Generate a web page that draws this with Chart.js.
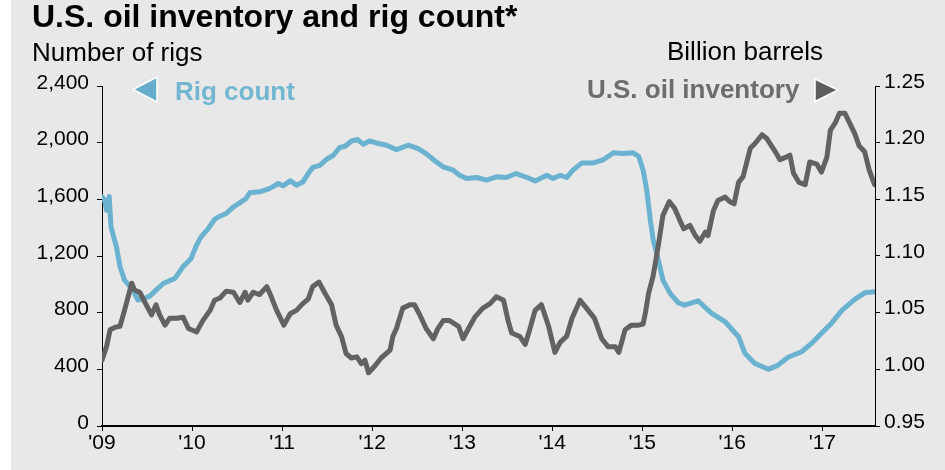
<!DOCTYPE html>
<html>
<head>
<meta charset="utf-8">
<title>U.S. oil inventory and rig count</title>
<script src="https://cdn.jsdelivr.net/npm/chart.js@4.4.0/dist/chart.umd.min.js"></script>
<style>
  html, body { margin: 0; padding: 0; background: #fff; }
  body {
    position: relative;
    width: 945px;
    height: 470px;
    overflow: hidden;
    font-family: "Liberation Sans", Arial, sans-serif;
  }
  .panel { position: absolute; left: 11px; top: 0; width: 934px; height: 470px; background: #e8e8e8; }
  #chart { position: absolute; left: 0; top: 0; }
  .txt { position: absolute; line-height: 1; white-space: nowrap; }
  .title { left: 32px; top: 0px; font-size: 32px; font-weight: bold; color: #000; }
  .unit { font-size: 26px; color: #000; }
  .legend { font-size: 26px; font-weight: bold; }
  svg { position: absolute; left: 0; top: 0; }
</style>
</head>
<body>
<div class="panel"></div>
<canvas id="chart" width="945" height="470"></canvas>
<div class="txt title">U.S. oil inventory and rig count*</div>
<div class="txt unit" style="left:32px; top:39px;">Number of rigs</div>
<div class="txt unit" style="left:667px; top:38px;">Billion barrels</div>
<div class="txt legend" style="left:175px; top:78px; color:#72b6d1;">Rig count</div>
<div class="txt legend" style="left:587px; top:76px; color:#6d6d6d;">U.S. oil inventory</div>
<svg width="945" height="470">
  <polygon points="133,89.5 157,77 157,102" fill="#66adcb" stroke="#fff" stroke-width="1.5"/>
  <polygon points="838,90 815,79 815,101.5" fill="#5e5e5e" stroke="#fff" stroke-width="1.5"/>
</svg>
<script>
// Rig count (left axis)
const rigDates = [
  2009.00, 2009.03, 2009.05, 2009.08, 2009.10, 2009.16, 2009.20, 2009.25, 2009.33, 2009.40,
  2009.47, 2009.53, 2009.60, 2009.68, 2009.81, 2009.90, 2009.99, 2010.05, 2010.10, 2010.18,
  2010.25, 2010.31, 2010.38, 2010.46, 2010.53, 2010.60, 2010.64, 2010.75, 2010.86, 2010.96,
  2011.01, 2011.09, 2011.16, 2011.23, 2011.29, 2011.34, 2011.42, 2011.49, 2011.57, 2011.64,
  2011.70, 2011.77, 2011.84, 2011.90, 2011.97, 2012.05, 2012.16, 2012.27, 2012.40, 2012.51,
  2012.60, 2012.70, 2012.79, 2012.90, 2012.97, 2013.05, 2013.16, 2013.27, 2013.38, 2013.49,
  2013.60, 2013.72, 2013.81, 2013.94, 2014.01, 2014.09, 2014.16, 2014.23, 2014.33, 2014.46,
  2014.57, 2014.68, 2014.79, 2014.90, 2014.96, 2015.01, 2015.05, 2015.09, 2015.12, 2015.18,
  2015.23, 2015.31, 2015.40, 2015.47, 2015.62, 2015.77, 2015.92, 2016.07, 2016.14, 2016.25,
  2016.40, 2016.51, 2016.62, 2016.77, 2016.88, 2016.99, 2017.10, 2017.22, 2017.36, 2017.47,
  2017.58
];
const rigCounts = [
  1617, 1590, 1523, 1620, 1406, 1265, 1124, 1030, 971, 889,
  900, 917, 959, 1006, 1042, 1124, 1183, 1277, 1335, 1394,
  1458, 1481, 1500, 1547, 1575, 1606, 1646, 1653, 1676, 1712,
  1695, 1730, 1700, 1722, 1782, 1825, 1840, 1881, 1911, 1966,
  1975, 2012, 2022, 1989, 2012, 1998, 1982, 1951, 1982, 1958,
  1923, 1871, 1829, 1806, 1770, 1747, 1754, 1735, 1759, 1754,
  1782, 1754, 1730, 1770, 1747, 1770, 1754, 1806, 1857, 1857,
  1881, 1928, 1923, 1928, 1904, 1806, 1665, 1453, 1320, 1170,
  1030, 936, 870, 853, 884, 795, 736, 630, 513, 442,
  400, 430, 485, 524, 583, 654, 724, 818, 894, 940,
  947
];

// U.S. oil inventory, billion barrels (right axis)
const inventoryDates = [
  2009.00, 2009.05, 2009.09, 2009.14, 2009.20, 2009.25, 2009.29, 2009.33, 2009.36, 2009.42,
  2009.49, 2009.55, 2009.60, 2009.64, 2009.70, 2009.75, 2009.83, 2009.90, 2009.96, 2010.05,
  2010.12, 2010.20, 2010.25, 2010.31, 2010.38, 2010.46, 2010.53, 2010.59, 2010.62, 2010.68,
  2010.75, 2010.83, 2010.88, 2010.94, 2011.02, 2011.09, 2011.16, 2011.23, 2011.29, 2011.34,
  2011.41, 2011.47, 2011.55, 2011.60, 2011.66, 2011.71, 2011.77, 2011.83, 2011.88, 2011.92,
  2011.96, 2012.03, 2012.10, 2012.20, 2012.23, 2012.27, 2012.34, 2012.42, 2012.47, 2012.53,
  2012.60, 2012.68, 2012.73, 2012.79, 2012.86, 2012.96, 2013.01, 2013.07, 2013.14, 2013.23,
  2013.31, 2013.38, 2013.46, 2013.51, 2013.55, 2013.64, 2013.70, 2013.75, 2013.81, 2013.88,
  2013.96, 2014.03, 2014.09, 2014.16, 2014.22, 2014.31, 2014.38, 2014.47, 2014.55, 2014.62,
  2014.70, 2014.74, 2014.81, 2014.88, 2014.96, 2015.01, 2015.04, 2015.07, 2015.12, 2015.18,
  2015.23, 2015.30, 2015.36, 2015.42, 2015.46, 2015.53, 2015.59, 2015.64, 2015.70, 2015.73,
  2015.79, 2015.84, 2015.92, 2015.97, 2016.02, 2016.07, 2016.12, 2016.20, 2016.25, 2016.33,
  2016.38, 2016.47, 2016.53, 2016.59, 2016.64, 2016.68, 2016.74, 2016.81, 2016.86, 2016.94,
  2016.99, 2017.05, 2017.09, 2017.14, 2017.19, 2017.25, 2017.30, 2017.36, 2017.41, 2017.47,
  2017.52, 2017.58
];
const inventoryLevels = [
  1.008, 1.020, 1.035, 1.037, 1.038, 1.052, 1.064, 1.076, 1.070, 1.068,
  1.057, 1.048, 1.057, 1.048, 1.039, 1.045, 1.045, 1.046, 1.036, 1.033,
  1.043, 1.052, 1.061, 1.063, 1.069, 1.068, 1.059, 1.068, 1.061, 1.068,
  1.066, 1.073, 1.064, 1.052, 1.039, 1.049, 1.052, 1.058, 1.062, 1.073,
  1.077, 1.068, 1.057, 1.039, 1.029, 1.014, 1.010, 1.011, 1.005, 1.008,
  0.997, 1.003, 1.010, 1.017, 1.029, 1.036, 1.054, 1.057, 1.057, 1.048,
  1.036, 1.027, 1.036, 1.043, 1.043, 1.038, 1.027, 1.036, 1.046, 1.054,
  1.058, 1.064, 1.061, 1.043, 1.032, 1.029, 1.022, 1.035, 1.052, 1.057,
  1.038, 1.015, 1.024, 1.029, 1.045, 1.061, 1.054, 1.045, 1.027, 1.020,
  1.020, 1.015, 1.035, 1.039, 1.039, 1.040, 1.052, 1.067, 1.082, 1.110,
  1.136, 1.148, 1.142, 1.131, 1.124, 1.127, 1.118, 1.113, 1.121, 1.118,
  1.140, 1.149, 1.152, 1.148, 1.146, 1.165, 1.170, 1.195, 1.199, 1.207,
  1.204, 1.193, 1.185, 1.187, 1.189, 1.173, 1.165, 1.163, 1.183, 1.181,
  1.174, 1.187, 1.211, 1.217, 1.226, 1.226, 1.218, 1.208, 1.197, 1.192,
  1.176, 1.163
];

// axis ticks
const yearTicks = [2009, 2010, 2011, 2012, 2013, 2014, 2015, 2016, 2017];
const yearLabels = ["'09", "'10", "'11", "'12", "'13", "'14", "'15", "'16", "'17"];
const rigTicks = [0, 400, 800, 1200, 1600, 2000, 2400];
const inventoryTicks = [0.95, 1.00, 1.05, 1.10, 1.15, 1.20, 1.25];

const xEnd = 2017.585;

const tickFont = { family: "'Liberation Sans', Arial, sans-serif", size: 21 };

function toPoints(dates, values) {
  return dates.map((d, i) => ({ x: d, y: values[i] }));
}

// fixed tick positions from the arrays above
function fixedTicks(list) {
  return function (axis) {
    axis.ticks = list.map((v) => ({ value: v }));
  };
}

const ctx = document.getElementById("chart").getContext("2d");

new Chart(ctx, {
  type: "line",
  data: {
    datasets: [
      {
        label: "U.S. oil inventory",
        data: toPoints(inventoryDates, inventoryLevels),
        yAxisID: "yRight",
        borderColor: "#626262",
        borderWidth: 5,
        pointRadius: 0,
        tension: 0,
        borderJoinStyle: "round",
        borderCapStyle: "round",
        order: 0,
      },
      {
        label: "Rig count",
        data: toPoints(rigDates, rigCounts),
        yAxisID: "yLeft",
        borderColor: "#6ab2cf",
        borderWidth: 5,
        pointRadius: 0,
        tension: 0,
        borderJoinStyle: "round",
        borderCapStyle: "round",
        order: 1,
      },
    ],
  },
  options: {
    responsive: false,
    animation: false,
    devicePixelRatio: 1,
    layout: { padding: { top: 86, left: 0, right: 0, bottom: 0 } },
    plugins: {
      legend: { display: false },
      tooltip: { enabled: false },
    },
    scales: {
      x: {
        type: "linear",
        min: 2009,
        max: xEnd,
        afterBuildTicks: fixedTicks(yearTicks),
        afterFit: (axis) => { axis.height = 44; },
        border: { display: true, color: "#000", width: 2 },
        grid: { drawOnChartArea: false, drawTicks: true, tickLength: 5, color: "#000", lineWidth: 1 },
        ticks: {
          color: "#000",
          font: tickFont,
          padding: 0,
          autoSkip: false,
          maxRotation: 0,
          callback: (value, index) => yearLabels[index],
        },
      },
      yLeft: {
        type: "linear",
        position: "left",
        min: 0,
        max: 2400,
        afterBuildTicks: fixedTicks(rigTicks),
        afterFit: (axis) => { axis.width = 102; },
        border: { display: true, color: "#000", width: 1 },
        grid: { drawOnChartArea: false, drawTicks: true, tickLength: 5, color: "#000", lineWidth: 1 },
        ticks: {
          color: "#000",
          font: tickFont,
          padding: 8,
          labelOffset: -3,
          callback: (value) => value.toLocaleString("en-US"),
        },
      },
      yRight: {
        type: "linear",
        position: "right",
        min: 0.95,
        max: 1.25,
        afterBuildTicks: fixedTicks(inventoryTicks),
        afterFit: (axis) => { axis.width = 70; },
        border: { display: true, color: "#000", width: 1 },
        grid: { drawOnChartArea: false, drawTicks: true, tickLength: 5, color: "#000", lineWidth: 1 },
        ticks: {
          color: "#000",
          font: tickFont,
          padding: 4,
          labelOffset: -4,
          callback: (value) => value.toFixed(2),
        },
      },
    },
  },
});
</script>
</body>
</html>
